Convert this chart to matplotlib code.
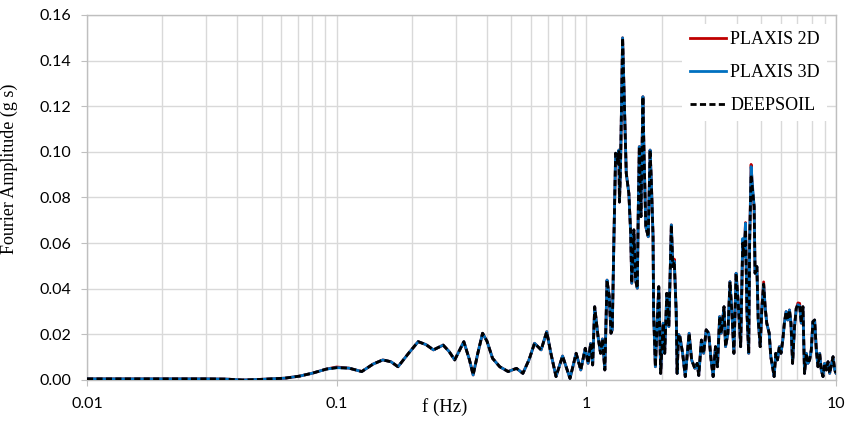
import numpy as np
import matplotlib.pyplot as plt
from matplotlib.ticker import FixedLocator, LogLocator, NullFormatter

freq = [0.010, 0.020, 0.030, 0.036, 0.042, 0.048, 0.055, 0.062, 0.071, 0.080,
        0.091, 0.100, 0.112, 0.126, 0.140, 0.153, 0.165, 0.176, 0.195, 0.212,
        0.228, 0.244, 0.267, 0.282, 0.297, 0.323, 0.340, 0.352, 0.368, 0.384,
        0.400, 0.421, 0.450, 0.486, 0.525, 0.557, 0.590, 0.620, 0.659, 0.694,
        0.720, 0.756, 0.803, 0.860, 0.910, 0.950, 0.990, 1.016, 1.040, 1.060,
        1.080, 1.114, 1.140, 1.160, 1.186, 1.210, 1.235, 1.255, 1.270, 1.290,
        1.310, 1.340, 1.350, 1.357, 1.370, 1.397, 1.420, 1.445, 1.480, 1.505,
        1.520, 1.550, 1.575, 1.600, 1.615, 1.630, 1.655, 1.685, 1.700, 1.730,
        1.770, 1.800, 1.820, 1.850, 1.860, 1.890, 1.950, 1.985, 2.030, 2.060,
        2.100, 2.140, 2.190, 2.220, 2.250, 2.290, 2.310, 2.340, 2.370, 2.430,
        2.490, 2.580, 2.640, 2.720, 2.780, 2.820, 2.890, 2.950, 3.020, 3.090,
        3.160, 3.220, 3.290, 3.350, 3.420, 3.470, 3.560, 3.610, 3.690, 3.760,
        3.830, 3.900, 3.980, 4.050, 4.110, 4.150, 4.180, 4.230, 4.280, 4.340,
        4.400, 4.470, 4.510, 4.570, 4.630, 4.700, 4.740, 4.820, 4.880, 4.970,
        5.050, 5.130, 5.200, 5.280, 5.400, 5.480, 5.570, 5.650, 5.740, 5.830,
        5.930, 6.020, 6.120, 6.210, 6.310, 6.410, 6.510, 6.600, 6.700, 6.820,
        6.930, 7.040, 7.150, 7.260, 7.370, 7.480, 7.600, 7.720, 7.840, 7.960,
        8.080, 8.210, 8.340, 8.470, 8.600, 8.730, 8.870, 9.000, 9.150, 9.290,
        9.430, 9.580, 9.730, 9.880, 10.00]

deepsoil = [0.0005, 0.0005, 0.0005, 0.0004, 0.0000, 0.0002, 0.0005, 0.0008, 0.0017, 0.0030,
            0.0048, 0.0054, 0.0052, 0.0037, 0.0070, 0.0088, 0.0080, 0.0058, 0.0120, 0.0168,
            0.0155, 0.0132, 0.0153, 0.0125, 0.0088, 0.0168, 0.0090, 0.0022, 0.0120, 0.0205,
            0.0170, 0.0095, 0.0058, 0.0037, 0.0051, 0.0029, 0.0090, 0.0161, 0.0132, 0.0212,
            0.0120, 0.0015, 0.0105, 0.0007, 0.0117, 0.0044, 0.0139, 0.0073, 0.0160, 0.0066,
            0.0321, 0.0190, 0.0117, 0.0180, 0.0044, 0.0438, 0.0365, 0.0205, 0.0220, 0.0628,
            0.0994, 0.0950, 0.1008, 0.0780, 0.0920, 0.1500, 0.1210, 0.0906, 0.0818, 0.0643,
            0.0424, 0.0658, 0.0438, 0.0402, 0.0760, 0.1023, 0.0716, 0.1242, 0.1023, 0.0672,
            0.0628, 0.1008, 0.0877, 0.0628, 0.0292, 0.0058, 0.0409, 0.0029, 0.0249, 0.0117,
            0.0380, 0.0234, 0.0680, 0.0497, 0.0520, 0.0300, 0.0029, 0.0200, 0.0190, 0.0117,
            0.0015, 0.0205, 0.0088, 0.0051, 0.0073, 0.0020, 0.0175, 0.0117, 0.0220, 0.0205,
            0.0088, 0.0015, 0.0146, 0.0058, 0.0278, 0.0205, 0.0321, 0.0146, 0.0205, 0.0431,
            0.0292, 0.0117, 0.0468, 0.0350, 0.0234, 0.0146, 0.0321, 0.0600, 0.0540, 0.0660,
            0.0292, 0.0117, 0.0614, 0.0900, 0.0833, 0.0760, 0.0468, 0.0497, 0.0263, 0.0146,
            0.0321, 0.0420, 0.0321, 0.0249, 0.0205, 0.0102, 0.0058, 0.0015, 0.0117, 0.0088,
            0.0146, 0.0117, 0.0175, 0.0249, 0.0300, 0.0263, 0.0307, 0.0249, 0.0073, 0.0234,
            0.0314, 0.0330, 0.0325, 0.0249, 0.0321, 0.0029, 0.0117, 0.0073, 0.0088, 0.0131,
            0.0256, 0.0263, 0.0131, 0.0058, 0.0117, 0.0044, 0.0015, 0.0073, 0.0044, 0.0080,
            0.0029, 0.0066, 0.0102, 0.0044, 0.0030]

# PLAXIS curves follow DEEPSOIL except at these peaks (f: amplitude)
plaxis_2d_diff = {0.100: 0.0057, 2.250: 0.0530, 4.340: 0.0690, 4.570: 0.0945,
                  5.130: 0.0430, 7.040: 0.0338, 7.150: 0.0336}
plaxis_3d_diff = {4.230: 0.0620, 4.340: 0.0687, 4.570: 0.0935, 4.630: 0.0850}

plaxis_2d = [plaxis_2d_diff.get(f, a) for f, a in zip(freq, deepsoil)]
plaxis_3d = [plaxis_3d_diff.get(f, a) for f, a in zip(freq, deepsoil)]

serif = ['Liberation Serif', 'DejaVu Serif']
sans = ['Lato', 'DejaVu Sans']

fig = plt.figure(figsize=(8.49, 4.21), dpi=100)
ax = fig.add_axes([0.1025, 0.0974, 0.8822, 0.867])

ax.plot(freq, plaxis_2d, color='#C00000', lw=2.0, label='PLAXIS 2D', zorder=3)
ax.plot(freq, plaxis_3d, color='#0070C0', lw=2.0, label='PLAXIS 3D', zorder=4)
ax.plot(freq, deepsoil, color='black', lw=2.0, ls=(0, (2.2, 1.2)), label='DEEPSOIL', zorder=5)

ax.set_xscale('log')
ax.set_xlim(0.01, 10)
ax.set_ylim(0, 0.16)
yt = np.arange(0, 0.161, 0.02)
ax.set_yticks(yt)
ax.set_yticklabels([f'{v:.2f}' for v in yt], family=sans, fontsize=11.5)
ax.xaxis.set_major_locator(FixedLocator([0.01, 0.1, 1, 10]))
ax.set_xticklabels(['0.01', '0.1', '1', '10'], family=sans, fontsize=11.5)
ax.xaxis.set_minor_locator(LogLocator(base=10, subs=np.arange(2, 10)))
ax.xaxis.set_minor_formatter(NullFormatter())

ax.grid(True, which='both', axis='x', color='#D9D9D9', lw=1.0)
ax.grid(True, which='major', axis='y', color='#D9D9D9', lw=1.0)
ax.set_axisbelow(True)
ax.tick_params(axis='y', which='major', length=4.3, color='#BFBFBF', pad=7)
ax.tick_params(axis='x', which='major', length=4.3, color='#BFBFBF', pad=8)
ax.tick_params(axis='x', which='minor', length=0)
for s in ax.spines.values():
    s.set_color('#BFBFBF')
    s.set_linewidth(1.0)

ax.set_xlabel('f (Hz)', family=serif, fontsize=13.5)
ax.xaxis.set_label_coords(0.478, -0.05)
ax.set_ylabel('Fourier Amplitude (g s)', family=serif, fontsize=13)
ax.yaxis.set_label_coords(-0.092, 0.578)

leg = ax.legend(loc='upper right', prop={'family': serif, 'size': 13}, frameon=True,
                fancybox=False, edgecolor='none', facecolor='white', framealpha=1,
                handlelength=2.0, handletextpad=0.25, labelspacing=0.88,
                borderaxespad=0.5)
leg.set_zorder(10)

fig.savefig('out.png', dpi=100)
